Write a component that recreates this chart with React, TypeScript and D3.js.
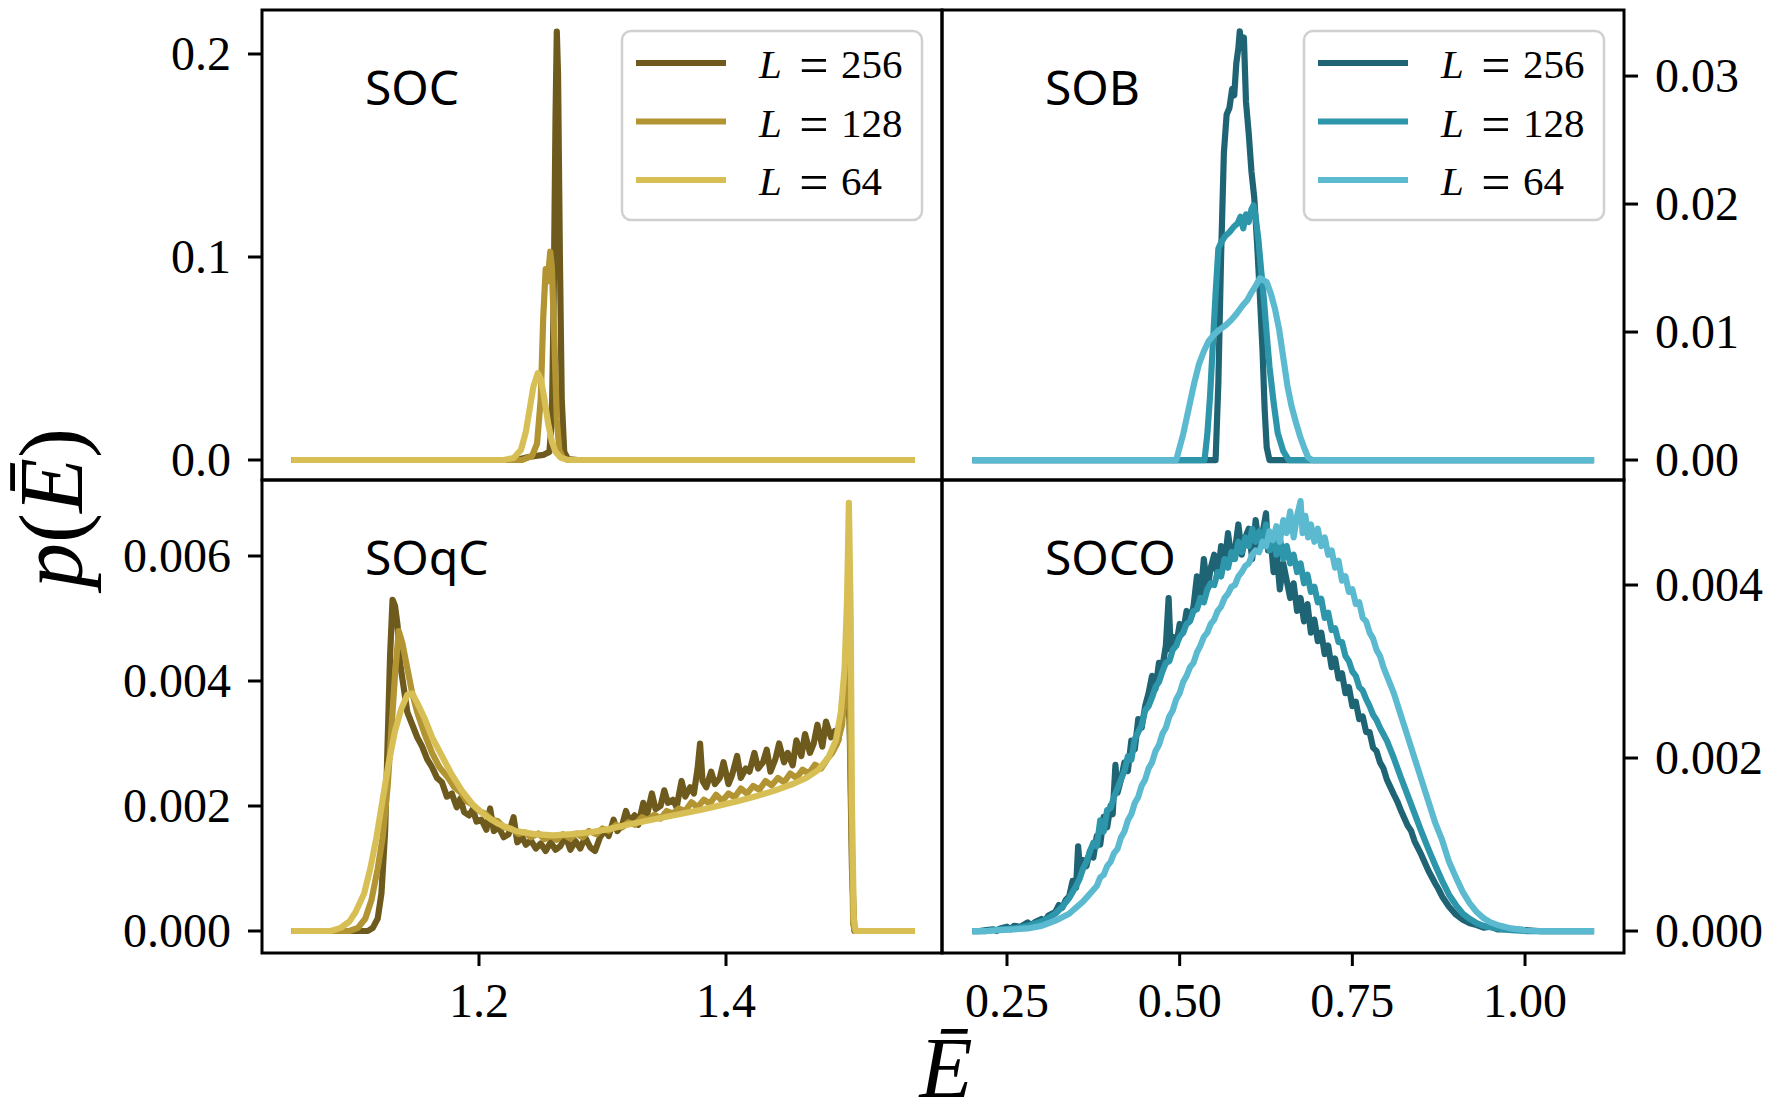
import React from 'react';
import * as d3 from 'd3';

type Pt = [number, number];

// ---------- series meta ----------
const sizeLabels = ['256', '128', '64'];
const goldColors = ['#6d5a1c', '#b29532', '#d8bf55'];
const tealColors = ['#1f6474', '#2d96ab', '#5cbad0'];
const panelNames = ['SOC', 'SOB', 'SOqC', 'SOCO'];

// ---------- ticks ----------
const xTicksLeft = [1.2, 1.4];
const xTickLabelsLeft = ['1.2', '1.4'];
const xTicksRight = [0.25, 0.5, 0.75, 1.0];
const xTickLabelsRight = ['0.25', '0.50', '0.75', '1.00'];
const yTicksSOC = [0, 0.1, 0.2];
const yTickLabelsSOC = ['0.0', '0.1', '0.2'];
const yTicksSOB = [0, 0.01, 0.02, 0.03];
const yTickLabelsSOB = ['0.00', '0.01', '0.02', '0.03'];
// SOqC and SOCO values are stored in units of 1e-3
const yTicksSOqC = [0, 2, 4, 6];
const yTickLabelsSOqC = ['0.000', '0.002', '0.004', '0.006'];
const yTicksSOCO = [0, 2, 4];
const yTickLabelsSOCO = ['0.000', '0.002', '0.004'];

// ---------- SOC (top-left) ----------
const socL256: Pt[] = [
  [1.048, 0], [1.23, 0], [1.24, 0.0015], [1.252, 0.0025], [1.257, 0.004], [1.259, 0.02],
  [1.2605, 0.08], [1.262, 0.17], [1.263, 0.211], [1.264, 0.19], [1.2655, 0.1], [1.267, 0.03],
  [1.269, 0.004], [1.272, 0.0005], [1.28, 0], [1.553, 0],
];
const socL128: Pt[] = [
  [1.048, 0], [1.235, 0], [1.243, 0.002], [1.247, 0.008], [1.25, 0.03], [1.252, 0.07],
  [1.254, 0.094], [1.2555, 0.088], [1.2577, 0.1026], [1.259, 0.095], [1.261, 0.06],
  [1.263, 0.02], [1.265, 0.005], [1.268, 0.001], [1.272, 0], [1.553, 0],
];
const socL64: Pt[] = [
  [1.048, 0], [1.22, 0], [1.228, 0.001], [1.234, 0.005], [1.238, 0.014], [1.241, 0.025],
  [1.244, 0.036], [1.2476, 0.0428], [1.25, 0.04], [1.253, 0.03], [1.256, 0.018],
  [1.259, 0.009], [1.262, 0.004], [1.266, 0.0012], [1.271, 0.0002], [1.276, 0], [1.553, 0],
];

// ---------- SOB (top-right) ----------
const sobL256: Pt[] = [
  [0.2, 0], [0.552, 0], [0.556, 0.006], [0.56, 0.016], [0.564, 0.024], [0.568, 0.027],
  [0.572, 0.0275], [0.576, 0.029], [0.579, 0.0285], [0.582, 0.031], [0.585, 0.0322], [0.587, 0.0335],
  [0.59, 0.0322], [0.593, 0.033], [0.596, 0.028], [0.6, 0.0255], [0.604, 0.0225],
  [0.608, 0.0205], [0.612, 0.017], [0.616, 0.013], [0.62, 0.0085], [0.623, 0.004],
  [0.626, 0.001], [0.63, 0], [1.1, 0],
];
const sobL128: Pt[] = [
  [0.2, 0], [0.536, 0], [0.54, 0.002], [0.544, 0.005], [0.548, 0.009], [0.552, 0.013],
  [0.556, 0.0165], [0.56, 0.017], [0.566, 0.0175], [0.572, 0.0178], [0.578, 0.0182],
  [0.584, 0.0185], [0.588, 0.019], [0.592, 0.0181], [0.596, 0.0192], [0.6, 0.0186],
  [0.604, 0.0196], [0.607, 0.0199], [0.61, 0.019], [0.614, 0.0172], [0.618, 0.0148],
  [0.622, 0.0125], [0.626, 0.0098], [0.63, 0.0073], [0.636, 0.0045], [0.642, 0.0021],
  [0.65, 0.0007], [0.658, 0], [1.1, 0],
];
const sobL64: Pt[] = [
  [0.2, 0], [0.495, 0], [0.505, 0.002], [0.513, 0.004], [0.521, 0.006], [0.528, 0.0075],
  [0.535, 0.0085], [0.542, 0.0093], [0.55, 0.0098], [0.558, 0.0102], [0.566, 0.0105],
  [0.574, 0.0109], [0.582, 0.0114], [0.59, 0.012], [0.598, 0.0125], [0.604, 0.0131],
  [0.61, 0.0136], [0.616, 0.0142], [0.62, 0.0141], [0.626, 0.0139], [0.632, 0.013],
  [0.638, 0.0118], [0.644, 0.0102], [0.65, 0.008], [0.656, 0.0058], [0.662, 0.0042],
  [0.668, 0.003], [0.674, 0.0019], [0.68, 0.001], [0.686, 0.0002], [0.692, 0], [1.1, 0],
];

// ---------- SOqC (bottom-left), units of 1e-3 ----------
const soqcL256: Pt[] = [
  [1.048, 0], [1.11, 0], [1.114, 0.05], [1.118, 0.2], [1.121, 0.6], [1.124, 1.6], [1.126, 3.0],
  [1.128, 4.4], [1.13, 5.3], [1.132, 5.2], [1.134, 4.9], [1.136, 4.3], [1.139, 3.9], [1.142, 3.5],
  [1.146, 3.3], [1.15, 3.1], [1.154, 2.95], [1.158, 2.75], [1.162, 2.62], [1.166, 2.45], [1.17, 2.38],
  [1.174, 2.15], [1.178, 2.2], [1.182, 1.98], [1.185, 2.12], [1.188, 1.9], [1.192, 1.85], [1.195, 1.95],
  [1.198, 1.75], [1.202, 1.78], [1.206, 1.62], [1.209, 1.96], [1.212, 1.6], [1.216, 1.66], [1.22, 1.5],
  [1.224, 1.55], [1.228, 1.82], [1.231, 1.42], [1.235, 1.5], [1.238, 1.38], [1.242, 1.45], [1.246, 1.32],
  [1.25, 1.4], [1.254, 1.28], [1.258, 1.42], [1.262, 1.3], [1.266, 1.36], [1.27, 1.52], [1.274, 1.3],
  [1.278, 1.44], [1.282, 1.32], [1.286, 1.5], [1.29, 1.34], [1.294, 1.28], [1.298, 1.5], [1.302, 1.62],
  [1.305, 1.52], [1.309, 1.78], [1.312, 1.6], [1.316, 1.7], [1.319, 1.92], [1.322, 1.75], [1.326, 1.85],
  [1.329, 1.7], [1.333, 2.05], [1.336, 1.85], [1.34, 2.2], [1.343, 1.95], [1.347, 2.0], [1.35, 2.25],
  [1.353, 2.05], [1.357, 2.1], [1.36, 1.98], [1.364, 2.4], [1.367, 2.15], [1.371, 2.3], [1.374, 2.2],
  [1.377, 2.6], [1.379, 3.0], [1.381, 2.4], [1.384, 2.3], [1.388, 2.55], [1.391, 2.35], [1.395, 2.45],
  [1.398, 2.7], [1.402, 2.35], [1.405, 2.5], [1.409, 2.8], [1.412, 2.45], [1.416, 2.6], [1.419, 2.55],
  [1.423, 2.85], [1.426, 2.6], [1.43, 2.7], [1.433, 2.9], [1.436, 2.55], [1.44, 2.75], [1.443, 3.0],
  [1.447, 2.7], [1.45, 2.85], [1.454, 2.65], [1.457, 3.05], [1.461, 2.8], [1.464, 3.15], [1.468, 2.85],
  [1.471, 3.0], [1.474, 3.3], [1.478, 2.95], [1.481, 3.35], [1.485, 3.1], [1.488, 3.2], [1.491, 3.05],
  [1.494, 3.5], [1.497, 3.7], [1.5, 3.4], [1.502, 1.0], [1.504, 0], [1.553, 0],
];
const soqcL128: Pt[] = [
  [1.048, 0], [1.095, 0], [1.102, 0.05], [1.108, 0.2], [1.113, 0.5], [1.118, 1.0], [1.122, 1.5],
  [1.126, 2.3], [1.129, 3.2], [1.132, 4.1], [1.135, 4.8], [1.138, 4.6], [1.142, 4.2], [1.146, 3.8],
  [1.15, 3.5], [1.156, 3.15], [1.162, 2.85], [1.168, 2.62], [1.175, 2.45], [1.18, 2.3], [1.186, 2.2],
  [1.19, 2.08], [1.195, 2.02], [1.2, 1.92], [1.205, 1.88], [1.21, 1.78], [1.215, 1.76], [1.22, 1.66],
  [1.226, 1.64], [1.232, 1.55], [1.237, 1.58], [1.242, 1.5], [1.248, 1.56], [1.253, 1.47], [1.258, 1.52],
  [1.263, 1.46], [1.268, 1.55], [1.274, 1.48], [1.279, 1.56], [1.284, 1.5], [1.289, 1.6], [1.295, 1.55],
  [1.3, 1.64], [1.305, 1.6], [1.311, 1.7], [1.316, 1.66], [1.321, 1.74], [1.326, 1.7], [1.332, 1.82],
  [1.337, 1.78], [1.342, 1.86], [1.347, 1.8], [1.352, 1.92], [1.357, 1.88], [1.362, 1.96], [1.367, 1.92],
  [1.372, 2.06], [1.377, 1.98], [1.382, 2.1], [1.387, 2.04], [1.392, 2.18], [1.397, 2.08], [1.402, 2.2],
  [1.407, 2.14], [1.412, 2.28], [1.417, 2.2], [1.422, 2.32], [1.427, 2.26], [1.432, 2.4], [1.437, 2.33],
  [1.442, 2.45], [1.447, 2.38], [1.452, 2.52], [1.457, 2.45], [1.462, 2.58], [1.467, 2.52], [1.472, 2.66],
  [1.477, 2.6], [1.482, 2.75], [1.486, 2.85], [1.49, 3.0], [1.494, 3.3], [1.497, 4.2], [1.499, 4.6],
  [1.501, 2.5], [1.503, 0.1], [1.505, 0], [1.553, 0],
];
const soqcL64: Pt[] = [
  [1.048, 0], [1.08, 0], [1.088, 0.05], [1.095, 0.15], [1.1, 0.3], [1.107, 0.6], [1.112, 1.0],
  [1.117, 1.5], [1.122, 2.1], [1.127, 2.7], [1.132, 3.2], [1.137, 3.55], [1.142, 3.78], [1.146, 3.8],
  [1.15, 3.65], [1.156, 3.4], [1.162, 3.1], [1.17, 2.8], [1.178, 2.5], [1.186, 2.25], [1.195, 2.02],
  [1.205, 1.85], [1.215, 1.72], [1.23, 1.6], [1.245, 1.55], [1.26, 1.53], [1.275, 1.55], [1.29, 1.58],
  [1.305, 1.63], [1.32, 1.7], [1.335, 1.76], [1.35, 1.82], [1.365, 1.88], [1.38, 1.94], [1.395, 2.01],
  [1.41, 2.08], [1.425, 2.16], [1.44, 2.25], [1.455, 2.36], [1.465, 2.45], [1.475, 2.58], [1.483, 2.78],
  [1.489, 3.05], [1.493, 3.5], [1.496, 4.2], [1.498, 5.3], [1.4995, 6.85], [1.501, 5.0], [1.502, 2.0],
  [1.5035, 0.2], [1.505, 0], [1.553, 0],
];

// ---------- SOCO (bottom-right), units of 1e-3 ----------
const socoL256: Pt[] = [
  [0.2, 0], [0.21, 0], [0.22, 0.01], [0.23, 0.02], [0.235, 0], [0.24, 0.03], [0.25, 0.05], [0.255, 0.02],
  [0.26, 0.06], [0.27, 0.05], [0.28, 0.1], [0.285, 0.07], [0.29, 0.1], [0.3, 0.14], [0.305, 0.12],
  [0.31, 0.18], [0.32, 0.22], [0.325, 0.3], [0.33, 0.27], [0.335, 0.36], [0.34, 0.4], [0.345, 0.58],
  [0.35, 0.5], [0.353, 0.98], [0.356, 0.7], [0.36, 0.82], [0.365, 0.75], [0.37, 0.92], [0.375, 0.85],
  [0.38, 1.1], [0.385, 1.0], [0.39, 1.32], [0.395, 1.2], [0.4, 1.45], [0.403, 1.35], [0.407, 1.92],
  [0.41, 1.6], [0.415, 1.75], [0.42, 1.95], [0.425, 1.85], [0.43, 2.2], [0.435, 2.1], [0.44, 2.45],
  [0.445, 2.35], [0.45, 2.6], [0.455, 2.75], [0.46, 2.95], [0.465, 2.8], [0.47, 3.1], [0.475, 3.05],
  [0.48, 3.3], [0.484, 3.85], [0.487, 3.25], [0.49, 3.4], [0.495, 3.3], [0.5, 3.55], [0.505, 3.45],
  [0.51, 3.7], [0.515, 3.6], [0.52, 3.75], [0.525, 4.1], [0.53, 3.85], [0.535, 4.3], [0.54, 3.95],
  [0.545, 4.2], [0.55, 4.35], [0.555, 4.1], [0.56, 4.45], [0.565, 4.25], [0.57, 4.6], [0.575, 4.3],
  [0.58, 4.4], [0.585, 4.7], [0.59, 4.35], [0.595, 4.55], [0.6, 4.65], [0.605, 4.3], [0.61, 4.75],
  [0.615, 4.45], [0.62, 4.6], [0.625, 4.83], [0.628, 4.4], [0.632, 4.5], [0.636, 4.15], [0.64, 4.4],
  [0.645, 3.95], [0.65, 4.25], [0.655, 4.05], [0.66, 3.85], [0.665, 4.02], [0.67, 3.7], [0.675, 3.85],
  [0.68, 3.58], [0.685, 3.78], [0.69, 3.45], [0.695, 3.6], [0.7, 3.35], [0.705, 3.45], [0.71, 3.2],
  [0.715, 3.3], [0.72, 3.05], [0.725, 3.15], [0.73, 2.92], [0.735, 2.98], [0.74, 2.75], [0.745, 2.82],
  [0.75, 2.6], [0.755, 2.65], [0.76, 2.45], [0.765, 2.48], [0.77, 2.3], [0.775, 2.3], [0.78, 2.12],
  [0.785, 2.08], [0.79, 1.95], [0.795, 1.88], [0.8, 1.75], [0.81, 1.58], [0.815, 1.5], [0.82, 1.4],
  [0.83, 1.22], [0.835, 1.16], [0.84, 1.04], [0.85, 0.88], [0.86, 0.7], [0.87, 0.55], [0.875, 0.48],
  [0.88, 0.4], [0.89, 0.28], [0.9, 0.19], [0.91, 0.13], [0.92, 0.09], [0.93, 0.07], [0.94, 0.04],
  [0.95, 0.05], [0.96, 0.02], [0.98, 0.02], [1.0, 0.01], [1.02, 0], [1.1, 0],
];
const socoL128: Pt[] = [
  [0.2, 0], [0.22, 0], [0.24, 0.02], [0.26, 0.03], [0.28, 0.06], [0.3, 0.11], [0.31, 0.15], [0.32, 0.2],
  [0.33, 0.28], [0.34, 0.38], [0.345, 0.45], [0.35, 0.52], [0.355, 0.6], [0.36, 0.72], [0.365, 0.8],
  [0.37, 0.92], [0.375, 1.02], [0.38, 0.98], [0.385, 1.28], [0.39, 1.15], [0.395, 1.4], [0.4, 1.42],
  [0.405, 1.55], [0.41, 1.65], [0.415, 1.75], [0.42, 1.85], [0.425, 2.02], [0.43, 1.98], [0.435, 2.22],
  [0.44, 2.3], [0.445, 2.38], [0.45, 2.55], [0.455, 2.6], [0.46, 2.7], [0.465, 2.82], [0.47, 2.88],
  [0.475, 3.0], [0.48, 3.1], [0.485, 3.12], [0.49, 3.25], [0.495, 3.3], [0.5, 3.4], [0.505, 3.45],
  [0.51, 3.55], [0.515, 3.58], [0.52, 3.7], [0.525, 3.72], [0.53, 3.85], [0.535, 3.8], [0.54, 3.95],
  [0.545, 4.02], [0.55, 4.0], [0.555, 4.15], [0.56, 4.1], [0.565, 4.3], [0.57, 4.2], [0.575, 4.38],
  [0.58, 4.3], [0.585, 4.5], [0.59, 4.38], [0.595, 4.55], [0.6, 4.45], [0.605, 4.65], [0.61, 4.5],
  [0.615, 4.62], [0.62, 4.45], [0.625, 4.7], [0.63, 4.4], [0.635, 4.6], [0.64, 4.35], [0.645, 4.55],
  [0.65, 4.3], [0.655, 4.45], [0.66, 4.25], [0.665, 4.35], [0.67, 4.15], [0.675, 4.25], [0.68, 4.02],
  [0.685, 4.12], [0.69, 3.92], [0.695, 3.98], [0.7, 3.8], [0.705, 3.84], [0.71, 3.62], [0.715, 3.68],
  [0.72, 3.48], [0.725, 3.5], [0.73, 3.34], [0.735, 3.34], [0.74, 3.18], [0.745, 3.12], [0.75, 3.0],
  [0.755, 2.95], [0.76, 2.82], [0.765, 2.78], [0.77, 2.68], [0.775, 2.6], [0.78, 2.5], [0.785, 2.44],
  [0.79, 2.35], [0.8, 2.2], [0.81, 2.0], [0.82, 1.78], [0.83, 1.57], [0.84, 1.36], [0.85, 1.15],
  [0.86, 0.95], [0.87, 0.76], [0.88, 0.58], [0.89, 0.42], [0.9, 0.3], [0.91, 0.2], [0.92, 0.14],
  [0.93, 0.09], [0.94, 0.06], [0.96, 0.03], [0.98, 0.01], [1.0, 0], [1.1, 0],
];
const socoL64: Pt[] = [
  [0.2, 0], [0.22, 0], [0.24, 0.01], [0.26, 0.02], [0.28, 0.03], [0.3, 0.06], [0.31, 0.09], [0.32, 0.12],
  [0.33, 0.16], [0.34, 0.2], [0.35, 0.27], [0.36, 0.34], [0.37, 0.43], [0.38, 0.52], [0.385, 0.62],
  [0.39, 0.65], [0.395, 0.75], [0.4, 0.8], [0.405, 0.9], [0.41, 0.95], [0.415, 1.08], [0.42, 1.15],
  [0.425, 1.28], [0.43, 1.35], [0.435, 1.48], [0.44, 1.55], [0.445, 1.68], [0.45, 1.75], [0.455, 1.88],
  [0.46, 1.95], [0.465, 2.08], [0.47, 2.15], [0.475, 2.28], [0.48, 2.35], [0.485, 2.48], [0.49, 2.55],
  [0.495, 2.68], [0.5, 2.75], [0.505, 2.88], [0.51, 2.95], [0.515, 3.05], [0.52, 3.1], [0.525, 3.22],
  [0.53, 3.3], [0.535, 3.4], [0.54, 3.45], [0.545, 3.55], [0.55, 3.6], [0.555, 3.7], [0.56, 3.75],
  [0.565, 3.85], [0.57, 3.9], [0.575, 3.98], [0.58, 4.0], [0.585, 4.1], [0.59, 4.15], [0.595, 4.22],
  [0.6, 4.25], [0.605, 4.35], [0.61, 4.4], [0.615, 4.38], [0.62, 4.5], [0.625, 4.45], [0.63, 4.62],
  [0.635, 4.52], [0.64, 4.68], [0.645, 4.5], [0.65, 4.75], [0.655, 4.6], [0.66, 4.85], [0.665, 4.55],
  [0.67, 4.8], [0.675, 4.97], [0.678, 4.6], [0.682, 4.8], [0.686, 4.55], [0.69, 4.7], [0.695, 4.5],
  [0.7, 4.65], [0.705, 4.45], [0.71, 4.55], [0.715, 4.35], [0.72, 4.4], [0.725, 4.2], [0.73, 4.28],
  [0.735, 4.05], [0.74, 4.1], [0.745, 3.92], [0.75, 3.95], [0.755, 3.78], [0.76, 3.8], [0.765, 3.62],
  [0.77, 3.58], [0.775, 3.45], [0.78, 3.38], [0.785, 3.25], [0.79, 3.18], [0.795, 3.05], [0.8, 2.95],
  [0.81, 2.75], [0.82, 2.5], [0.83, 2.25], [0.84, 2.0], [0.85, 1.75], [0.86, 1.5], [0.87, 1.25],
  [0.88, 1.05], [0.89, 0.8], [0.9, 0.62], [0.91, 0.45], [0.92, 0.32], [0.93, 0.22], [0.94, 0.15],
  [0.95, 0.1], [0.96, 0.07], [0.98, 0.03], [1.0, 0.01], [1.02, 0], [1.1, 0],
];

// ---------- layout ----------
const W = 1772;
const H = 1116;
const colLeft: [number, number] = [262, 942];
const colRight: [number, number] = [942, 1624];
const rowTop: [number, number] = [10, 480];
const rowBottom: [number, number] = [480, 953];

const SERIF = "'Liberation Serif', 'DejaVu Serif', serif";
const SANS = "'Noto Sans', 'Open Sans', sans-serif";
const LINE_W = 6.2;

type PanelProps = {
  id: string;
  name: string;
  xr: [number, number];
  yr: [number, number];
  xDomain: [number, number];
  yDomain: [number, number];
  series: Pt[][];
  colors: string[];
  yTicks: number[];
  yTickLabels: string[];
  ySide: 'left' | 'right';
  xTicks?: number[];
  xTickLabels?: string[];
  legend?: boolean;
};

function Panel(p: PanelProps) {
  const x = d3.scaleLinear().domain(p.xDomain).range(p.xr);
  const y = d3.scaleLinear().domain(p.yDomain).range([p.yr[1], p.yr[0]]);
  const line = d3
    .line<Pt>()
    .x((d) => x(d[0]))
    .y((d) => y(d[1]));
  const [x0, x1] = p.xr;
  const [y0, y1] = p.yr;
  const tickLen = 14;
  const lg = { x: x1 - 320, y: y0 + 21, w: 300, h: 189 };
  return (
    <g>
      <defs>
        <clipPath id={`clip-${p.id}`}>
          <rect x={x0} y={y0} width={x1 - x0} height={y1 - y0} />
        </clipPath>
      </defs>
      <g clipPath={`url(#clip-${p.id})`}>
        {p.series.map((s, i) => (
          <path
            key={i}
            d={line(s) || ''}
            fill="none"
            stroke={p.colors[i]}
            strokeWidth={LINE_W}
            strokeLinejoin="round"
            strokeLinecap="butt"
          />
        ))}
      </g>
      {/* panel label */}
      <text x={x0 + 103} y={y0 + 95} fontFamily={SANS} fontSize={48} fill="#000">
        {p.name}
      </text>
      {/* legend */}
      {p.legend && (
        <g>
          <rect
            x={lg.x}
            y={lg.y}
            width={lg.w}
            height={lg.h}
            rx={9}
            ry={9}
            fill="#ffffff"
            fillOpacity={0.8}
            stroke="#d0d0d0"
            strokeWidth={2.5}
          />
          {sizeLabels.map((lab, i) => {
            const ly = lg.y + 32 + i * 58.5;
            return (
              <g key={lab}>
                <line x1={lg.x + 14} x2={lg.x + 104} y1={ly} y2={ly} stroke={p.colors[i]} strokeWidth={LINE_W} />
                <text x={lg.x + 137} y={ly + 15} fontFamily={SERIF} fontSize={41} fontStyle="italic" fill="#000">
                  L
                </text>
                <text x={lg.x + 192} y={ly + 20} textAnchor="middle" fontFamily={SERIF} fontSize={52} fill="#000">
                  =
                </text>
                <text x={lg.x + 219} y={ly + 15} fontFamily={SERIF} fontSize={41} fill="#000">
                  {lab}
                </text>
              </g>
            );
          })}
        </g>
      )}
      {/* y ticks */}
      {p.yTicks.map((t, i) => {
        const ty = y(t);
        const left = p.ySide === 'left';
        const sx = left ? x0 : x1;
        const ex = left ? x0 - tickLen : x1 + tickLen;
        return (
          <g key={`yt${i}`}>
            <line x1={sx} x2={ex} y1={ty} y2={ty} stroke="#000" strokeWidth={3} />
            <text
              x={left ? x0 - 31 : x1 + 31}
              y={ty}
              dy="0.34em"
              textAnchor={left ? 'end' : 'start'}
              fontFamily={SERIF}
              fontSize={48}
              fill="#000"
            >
              {p.yTickLabels[i]}
            </text>
          </g>
        );
      })}
      {/* x ticks */}
      {p.xTicks &&
        p.xTicks.map((t, i) => {
          const tx = x(t);
          return (
            <g key={`xt${i}`}>
              <line x1={tx} x2={tx} y1={y1} y2={y1 + 13} stroke="#000" strokeWidth={3} />
              <text x={tx} y={y1 + 64} textAnchor="middle" fontFamily={SERIF} fontSize={48} fill="#000">
                {p.xTickLabels![i]}
              </text>
            </g>
          );
        })}
      {/* frame */}
      <rect x={x0} y={y0} width={x1 - x0} height={y1 - y0} fill="none" stroke="#000" strokeWidth={3} />
    </g>
  );
}

export default function App() {
  const xLeftDomain: [number, number] = [1.0243, 1.5749];
  const xRightDomain: [number, number] = [0.1559, 1.1433];
  return (
    <svg
      width={W}
      height={H}
      viewBox={`0 0 ${W} ${H}`}
      style={{ position: 'absolute', left: 0, top: 0, background: '#fff' }}
    >
      <rect x={0} y={0} width={W} height={H} fill="#fff" />
      <Panel
        id="soc"
        name={panelNames[0]}
        xr={colLeft}
        yr={rowTop}
        xDomain={xLeftDomain}
        yDomain={[-0.00985, 0.22167]}
        series={[socL256, socL128, socL64]}
        colors={goldColors}
        yTicks={yTicksSOC}
        yTickLabels={yTickLabelsSOC}
        ySide="left"
        legend
      />
      <Panel
        id="sob"
        name={panelNames[1]}
        xr={colRight}
        yr={rowTop}
        xDomain={xRightDomain}
        yDomain={[-0.00156, 0.03516]}
        series={[sobL256, sobL128, sobL64]}
        colors={tealColors}
        yTicks={yTicksSOB}
        yTickLabels={yTickLabelsSOB}
        ySide="right"
        legend
      />
      <Panel
        id="soqc"
        name={panelNames[2]}
        xr={colLeft}
        yr={rowBottom}
        xDomain={xLeftDomain}
        yDomain={[-0.352, 7.216]}
        series={[soqcL256, soqcL128, soqcL64]}
        colors={goldColors}
        yTicks={yTicksSOqC}
        yTickLabels={yTickLabelsSOqC}
        ySide="left"
        xTicks={xTicksLeft}
        xTickLabels={xTickLabelsLeft}
      />
      <Panel
        id="soco"
        name={panelNames[3]}
        xr={colRight}
        yr={rowBottom}
        xDomain={xRightDomain}
        yDomain={[-0.254, 5.214]}
        series={[socoL256, socoL128, socoL64]}
        colors={tealColors}
        yTicks={yTicksSOCO}
        yTickLabels={yTickLabelsSOCO}
        ySide="right"
        xTicks={xTicksRight}
        xTickLabels={xTickLabelsRight}
      />
      {/* axis labels */}
      <text x={946} y={1097} textAnchor="middle" fontFamily={SERIF} fontSize={87} fontStyle="italic" fill="#000">
        Ē
      </text>
      <text
        transform="translate(82,508) rotate(-90)"
        textAnchor="middle"
        fontFamily={SERIF}
        fontSize={90}
        fill="#000"
      >
        <tspan fontStyle="italic">p</tspan>
        <tspan>(</tspan>
        <tspan fontStyle="italic">Ē</tspan>
        <tspan>)</tspan>
      </text>
    </svg>
  );
}
